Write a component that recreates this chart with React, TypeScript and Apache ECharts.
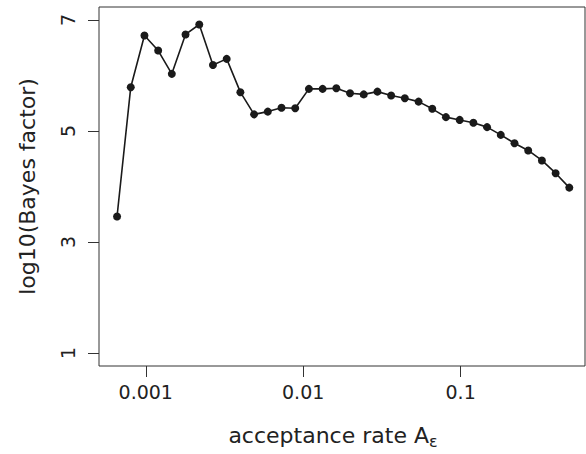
import React, { useEffect, useRef } from "react";
import * as echarts from "echarts";

const acceptanceRates = [
  0.000657, 0.000803, 0.000981, 0.001199, 0.001464, 0.001789, 0.002187, 0.002672,
  0.003266, 0.00399, 0.004877, 0.005958, 0.007282, 0.008899, 0.010872, 0.013286,
  0.016236, 0.019839, 0.024237, 0.02962, 0.0362, 0.044222, 0.054049, 0.06604,
  0.0807, 0.098606, 0.120504, 0.147265, 0.179887, 0.219887, 0.268648, 0.328333,
  0.401237, 0.49,
];
const log10BayesFactor = [
  3.46, 5.79, 6.72, 6.45, 6.03, 6.74, 6.92, 6.19, 6.3, 5.7, 5.3, 5.35, 5.42, 5.41,
  5.76, 5.76, 5.77, 5.68, 5.66, 5.71, 5.64, 5.59, 5.53, 5.4, 5.25, 5.2, 5.15, 5.07,
  4.93, 4.78, 4.65, 4.47, 4.24, 3.98,
];
const xTicks = [0.001, 0.01, 0.1];
const yTicks = [1, 3, 5, 7];

export default function App() {
  const ref = useRef<HTMLDivElement>(null);
  useEffect(() => {
    if (!ref.current) return;
    const chart = echarts.init(ref.current, null, { renderer: "svg" });
    const font = "DejaVu Sans";
    const data = acceptanceRates.map((x, i) => [x, log10BayesFactor[i]]);
    chart.setOption({
      animation: false,
      backgroundColor: "#ffffff",
      grid: {
        left: 99,
        top: 7,
        right: 1,
        bottom: 82,
        show: true,
        borderColor: "#333",
        borderWidth: 1,
        backgroundColor: "transparent",
      },
      xAxis: {
        type: "log",
        logBase: 10,
        min: Math.pow(10, -3.297),
        max: Math.pow(10, -0.21),
        axisLine: { show: false },
        splitLine: { show: false },
        minorTick: { show: false },
        axisTick: {
          show: true,
          length: 11,
          lineStyle: { color: "#333", width: 1 },
          customValues: xTicks,
        },
        axisLabel: {
          customValues: xTicks,
          margin: 16,
          fontFamily: font,
          fontSize: 19,
          color: "#222",
          formatter: (v: number) => String(v),
        },
        name: "acceptance rate A{sub|ε}",
        nameLocation: "middle",
        nameGap: 55,
        nameTextStyle: {
          fontFamily: font,
          fontSize: 22,
          color: "#222",
          padding: [0, 18, 0, 0],
          rich: {
            sub: {
              fontFamily: font,
              fontSize: 16,
              color: "#222",
              padding: [12, 0, 0, 0],
            },
          },
        },
      },
      yAxis: {
        type: "value",
        min: 0.765,
        max: 7.235,
        axisLine: { show: false },
        splitLine: { show: false },
        axisTick: {
          show: true,
          length: 11,
          lineStyle: { color: "#333", width: 1 },
          customValues: yTicks,
        },
        axisLabel: {
          customValues: yTicks,
          rotate: 90,
          margin: 22,
          fontFamily: font,
          fontSize: 19,
          color: "#222",
        },
        name: "log10(Bayes factor)",
        nameLocation: "middle",
        nameGap: 61,
        nameRotate: 90,
        nameTextStyle: { fontFamily: font, fontSize: 22, color: "#222" },
      },
      series: [
        {
          type: "line",
          data,
          symbol: "circle",
          symbolSize: 8,
          showSymbol: true,
          itemStyle: { color: "#1a1a1a" },
          lineStyle: { color: "#1a1a1a", width: 1.6 },
        },
      ],
    });
    return () => chart.dispose();
  }, []);
  return (
    <div
      ref={ref}
      style={{ position: "absolute", left: 0, top: 0, width: 586, height: 454 }}
    />
  );
}
